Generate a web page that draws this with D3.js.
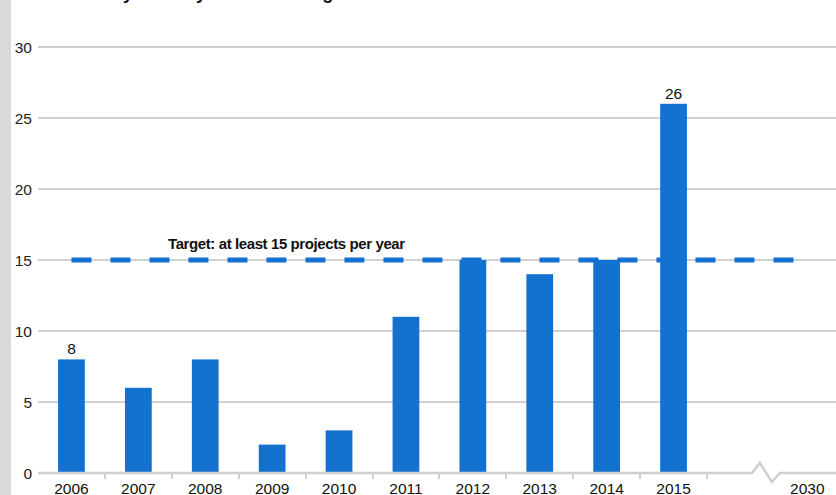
<!DOCTYPE html>
<html>
<head>
<meta charset="utf-8">
<script src="https://cdn.jsdelivr.net/npm/d3@7"></script>
<style>
  body { margin: 0; background: #fff; }
  svg { display: block; font-family: "Liberation Sans", Arial, sans-serif; }
</style>
</head>
<body>
<div id="chart"></div>
<script>
var width = 836,
  height = 495;

// chart data
var years = ["2006", "2007", "2008", "2009", "2010", "2011", "2012", "2013", "2014", "2015"];
var projects = [8, 6, 8, 2, 3, 11, 15, 14, 15, 26];
var labelled = ["2006", "2015"];
var farYear = "2030";
var target = 15;
var targetLabel = "Target: at least 15 projects per year";
var yTicks = [0, 5, 10, 15, 20, 25, 30];
var title = "Yearly delivery vs annual target";

var barColor = "#1371cf";

var svg = d3.select("#chart")
  .append("svg")
  .attr("width", width)
  .attr("height", height);

// grey strip on the left
svg.append("rect")
  .attr("x", 0).attr("y", 0)
  .attr("width", 11).attr("height", height)
  .attr("fill", "#d9d9d9");

// title, mostly cut off at the top
svg.append("text")
  .attr("x", 80)
  .attr("y", -1)
  .attr("font-size", "18px")
  .attr("font-weight", "bold")
  .attr("fill", "#111")
  .text(title);

// x: ten years, a break, then 2030
var x = d3.scaleBand()
  .domain(years.concat(["gap", farYear]))
  .range([38, 38 + 12 * 66.9])
  .paddingInner(0)
  .paddingOuter(0);

var y = d3.scaleLinear()
  .domain([0, 30])
  .range([473, 47]);

// grid lines + y labels
var grid = svg.append("g");
grid.selectAll("line")
  .data(yTicks.filter(function (d) { return d > 0; }))
  .enter()
  .append("line")
  .attr("x1", 38)
  .attr("x2", width)
  .attr("y1", function (d) { return y(d); })
  .attr("y2", function (d) { return y(d); })
  .attr("stroke", "#d0d0d0")
  .attr("stroke-width", 2);

svg.append("g").selectAll("text")
  .data(yTicks)
  .enter()
  .append("text")
  .attr("x", 32)
  .attr("y", function (d) { return y(d); })
  .attr("dy", "0.36em")
  .attr("text-anchor", "end")
  .attr("font-size", "15.5px")
  .attr("fill", "#222")
  .text(function (d) { return d; });

// bars
var bw = x.bandwidth() * 0.4;
svg.append("g").selectAll("rect")
  .data(years)
  .enter()
  .append("rect")
  .attr("x", function (d) { return x(d) + (x.bandwidth() - bw) / 2; })
  .attr("y", function (d, i) { return y(projects[i]); })
  .attr("width", bw)
  .attr("height", function (d, i) { return y(0) - y(projects[i]); })
  .attr("fill", barColor);

// value labels
svg.append("g").selectAll("text")
  .data(years.filter(function (d) { return labelled.indexOf(d) >= 0; }))
  .enter()
  .append("text")
  .attr("x", function (d) { return x(d) + x.bandwidth() / 2; })
  .attr("y", function (d) { return y(projects[years.indexOf(d)]) - 5; })
  .attr("text-anchor", "middle")
  .attr("font-size", "15.5px")
  .attr("fill", "#111")
  .text(function (d) { return projects[years.indexOf(d)]; });

// target line
svg.append("line")
  .attr("x1", x(years[0]) + x.bandwidth() / 2)
  .attr("x2", x(farYear) + x.bandwidth() / 2)
  .attr("y1", y(target))
  .attr("y2", y(target))
  .attr("stroke", barColor)
  .attr("stroke-width", 5)
  .attr("stroke-dasharray", "20,19");

svg.append("text")
  .attr("x", 168)
  .attr("y", y(target) - 11)
  .attr("font-size", "15px")
  .attr("font-weight", "bold")
  .attr("letter-spacing", "-0.4px")
  .attr("fill", "#111")
  .text(targetLabel);

// x axis with break
var gx = x("gap"), bwFull = x.bandwidth();
var zig = [
  [38, y(0)],
  [gx + 0.67 * bwFull, y(0)],
  [gx + 0.79 * bwFull, y(0) - 10],
  [gx + 0.97 * bwFull, y(0) + 9],
  [gx + 1.09 * bwFull, y(0)],
  [width, y(0)]
];
svg.append("path")
  .attr("d", d3.line()(zig))
  .attr("fill", "none")
  .attr("stroke", "#cfcfcf")
  .attr("stroke-width", 2.5);

svg.append("g").selectAll("line")
  .data(years.slice(1).concat(["gap"]))
  .enter()
  .append("line")
  .attr("x1", function (d) { return Math.round(x(d)); })
  .attr("x2", function (d) { return Math.round(x(d)); })
  .attr("y1", y(0))
  .attr("y2", y(0) + 6)
  .attr("stroke", "#cfcfcf")
  .attr("stroke-width", 2);

svg.append("g").selectAll("text")
  .data(years.concat([farYear]))
  .enter()
  .append("text")
  .attr("x", function (d) { return x(d) + x.bandwidth() / 2; })
  .attr("y", 493.5)
  .attr("text-anchor", "middle")
  .attr("font-size", "15.5px")
  .attr("fill", "#111")
  .text(function (d) { return d; });
</script>
</body>
</html>
